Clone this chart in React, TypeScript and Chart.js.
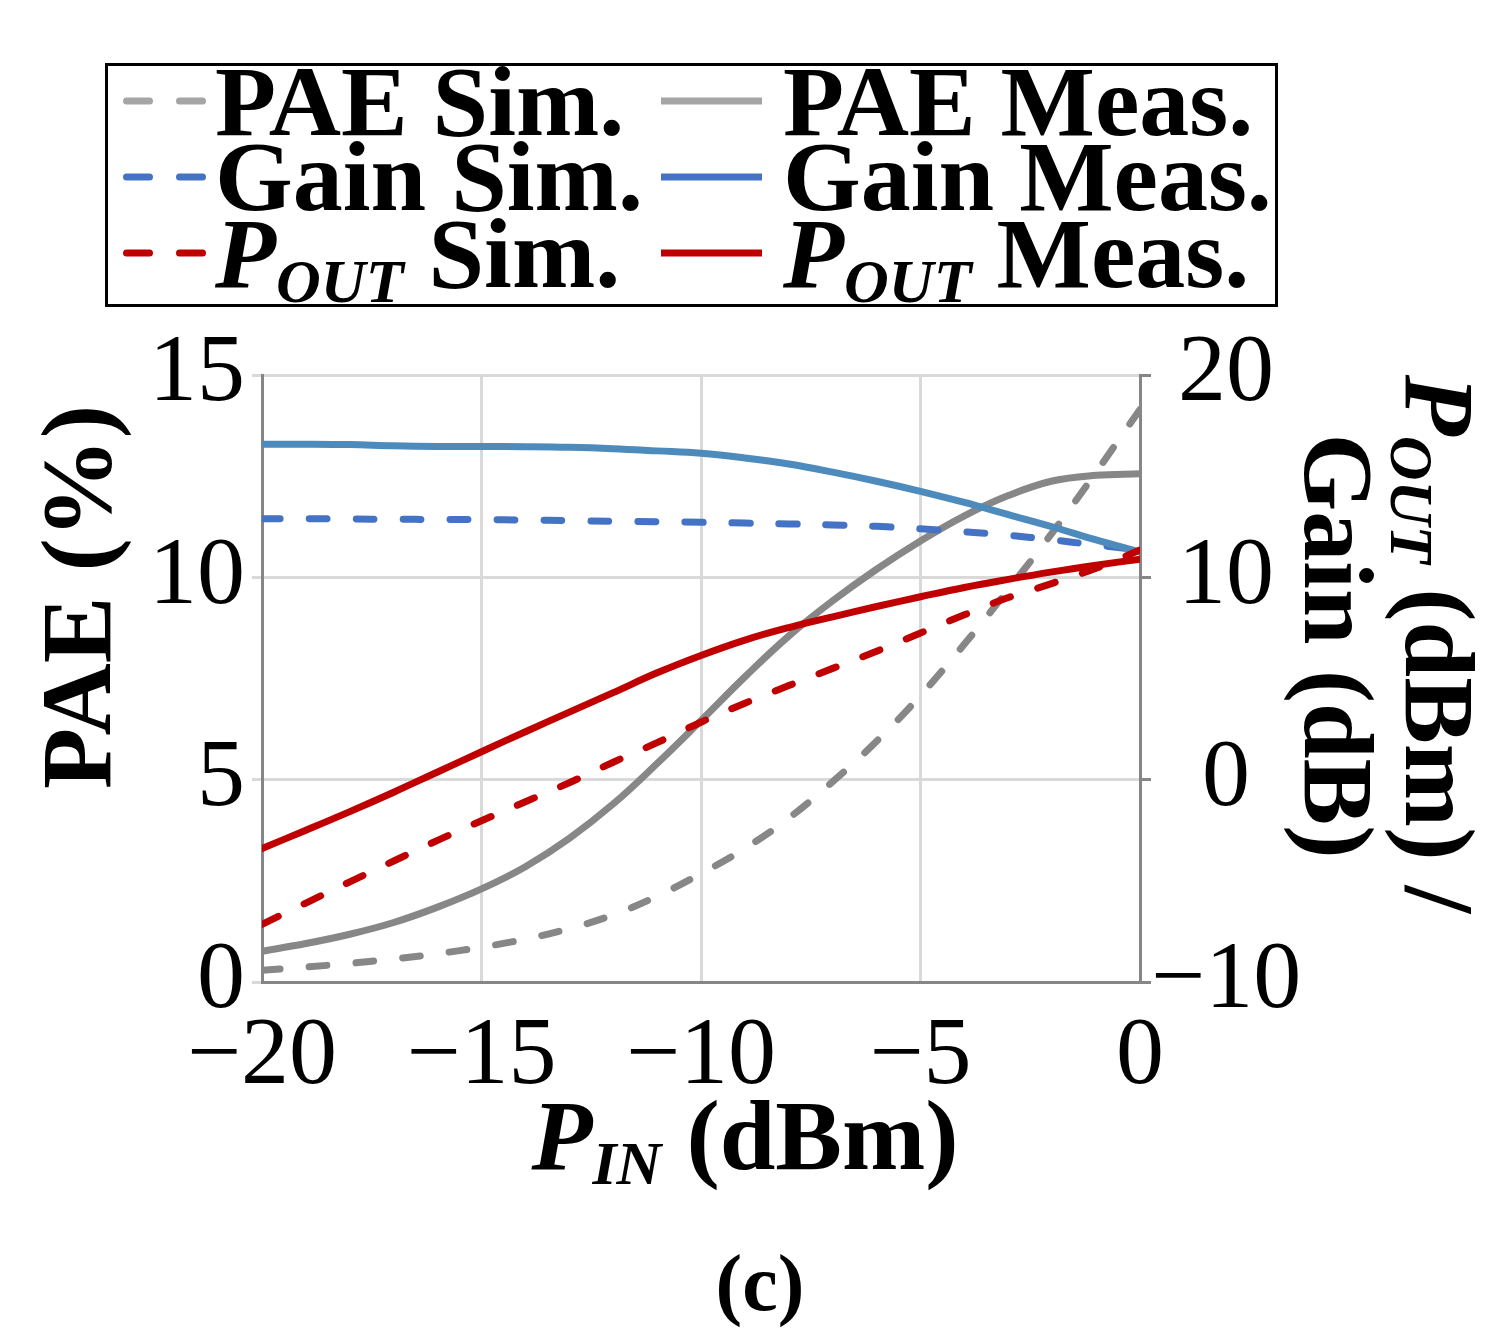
import { useEffect, useRef } from "react";
import { Chart, registerables } from "chart.js";

Chart.register(...registerables);

// input power sweep, dBm
const pinDbm = [-20, -19, -18, -17, -16, -15, -14, -13, -12, -11, -10, -9, -8, -7, -6, -5, -4, -3, -2, -1, 0];

// PAE (%), left axis
const paeSim = [0.29, 0.37, 0.46, 0.57, 0.7, 0.86, 1.06, 1.32, 1.66, 2.12, 2.68, 3.3, 4.05, 4.95, 5.95, 7.08, 8.35, 9.7, 11.1, 12.6, 14.15];
const paeMeas = [0.76, 0.95, 1.18, 1.47, 1.85, 2.3, 2.85, 3.55, 4.4, 5.4, 6.46, 7.54, 8.55, 9.42, 10.2, 10.9, 11.52, 12.02, 12.38, 12.52, 12.56];

// Gain (dB) and Pout (dBm), right axis
const gainSim = [12.9, 12.9, 12.88, 12.87, 12.86, 12.85, 12.83, 12.8, 12.77, 12.75, 12.72, 12.68, 12.64, 12.59, 12.52, 12.4, 12.25, 12.08, 11.85, 11.6, 11.35];
const gainMeas = [16.58, 16.58, 16.56, 16.5, 16.47, 16.47, 16.46, 16.43, 16.36, 16.25, 16.13, 15.9, 15.6, 15.2, 14.75, 14.25, 13.7, 13.1, 12.5, 11.85, 11.25];
const poutSim = [-7.15, -6.1, -5.05, -4.02, -3.0, -2.03, -1.09, -0.15, 0.86, 1.83, 2.84, 3.78, 4.65, 5.5, 6.35, 7.25, 8.15, 9.0, 9.7, 10.45, 11.35];
const poutMeas = [-3.4, -2.5, -1.58, -0.62, 0.38, 1.38, 2.37, 3.34, 4.3, 5.28, 6.14, 6.9, 7.52, 8.05, 8.56, 9.04, 9.5, 9.9, 10.27, 10.6, 10.9];

const xTicks = [-20, -15, -10, -5, 0];

const SERIF = "'Liberation Serif', 'Times New Roman', serif";
const B = `bold 100px ${SERIF}`;
const BI = `italic bold 100px ${SERIF}`;
const SUB = `italic bold 62px ${SERIF}`;

type Part = { t: string; font: string; dy?: number };

const legendItems: { parts: Part[]; color: string; dashed: boolean }[] = [
  { parts: [{ t: "PAE Sim.", font: B }], color: "#a5a5a5", dashed: true },
  { parts: [{ t: "PAE Meas.", font: B }], color: "#a5a5a5", dashed: false },
  { parts: [{ t: "Gain Sim.", font: B }], color: "#4472c4", dashed: true },
  { parts: [{ t: "Gain Meas.", font: B }], color: "#4472c4", dashed: false },
  {
    parts: [
      { t: "P", font: BI },
      { t: "OUT", font: SUB, dy: 15 },
      { t: " Sim.", font: B },
    ],
    color: "#c00000",
    dashed: true,
  },
  {
    parts: [
      { t: "P", font: BI },
      { t: "OUT", font: SUB, dy: 15 },
      { t: " Meas.", font: B },
    ],
    color: "#c00000",
    dashed: false,
  },
];

const drawParts = (ctx: CanvasRenderingContext2D, parts: Part[], x: number, y: number, center: boolean) => {
  let w = 0;
  parts.forEach((p) => {
    ctx.font = p.font;
    w += ctx.measureText(p.t).width;
  });
  let cx = center ? x - w / 2 : x;
  parts.forEach((p) => {
    ctx.font = p.font;
    ctx.fillText(p.t, cx, y + (p.dy || 0));
    cx += ctx.measureText(p.t).width;
  });
};

const decorations = {
  id: "decorations",
  afterDraw(chart: Chart) {
    const ctx = chart.ctx;
    ctx.save();
    ctx.fillStyle = "#000";
    ctx.textAlign = "left";
    ctx.textBaseline = "alphabetic";

    // legend box
    ctx.strokeStyle = "#000";
    ctx.lineWidth = 3;
    ctx.strokeRect(106.5, 64.5, 1170, 241);

    const rowLine = [101, 177, 253];
    const rowText = [135, 210, 287];
    legendItems.forEach((item, i) => {
      const row = Math.floor(i / 2);
      const col = i % 2;
      ctx.beginPath();
      ctx.strokeStyle = item.color;
      ctx.lineWidth = 7;
      ctx.lineCap = item.dashed ? "round" : "butt";
      ctx.setLineDash(item.dashed ? [23, 30] : []);
      if (col === 0) {
        ctx.moveTo(126.5, rowLine[row]);
        ctx.lineTo(204, rowLine[row]);
      } else {
        ctx.moveTo(661, rowLine[row]);
        ctx.lineTo(762, rowLine[row]);
      }
      ctx.stroke();
      ctx.setLineDash([]);
      drawParts(ctx, item.parts, col === 0 ? 215 : 783, rowText[row], false);
    });

    // left axis title
    ctx.save();
    ctx.translate(110, 597);
    ctx.rotate(-Math.PI / 2);
    drawParts(ctx, [{ t: "PAE (%)", font: B }], 0, 0, true);
    ctx.restore();

    // right axis title, two lines
    ctx.save();
    ctx.translate(1406, 644);
    ctx.rotate(Math.PI / 2);
    drawParts(
      ctx,
      [
        { t: "P", font: BI },
        { t: "OUT", font: SUB, dy: 15 },
        { t: " (dBm) /", font: B },
      ],
      0,
      0,
      true
    );
    ctx.restore();
    ctx.save();
    ctx.translate(1305, 646);
    ctx.rotate(Math.PI / 2);
    drawParts(ctx, [{ t: "Gain (dB)", font: B }], 0, 0, true);
    ctx.restore();

    // x axis title
    drawParts(
      ctx,
      [
        { t: "P", font: BI },
        { t: "IN", font: SUB, dy: 15 },
        { t: " (dBm)", font: B },
      ],
      745,
      1169,
      true
    );

    // panel label
    drawParts(ctx, [{ t: "(c)", font: `bold 80px ${SERIF}` }], 760, 1310, true);
    ctx.restore();
  },
};

const GRID = "#d9d9d9";
const AXIS = "#868686";
const tickFont = { family: SERIF, size: 96, weight: "normal" as const };
const minus = (v: string | number) => String(v).replace("-", "\u2212");

const App = () => {
  const canvasRef = useRef<HTMLCanvasElement | null>(null);
  const chartRef = useRef<Chart | null>(null);

  useEffect(() => {
    if (!canvasRef.current) return;
    if (chartRef.current) chartRef.current.destroy();

    const pts = (arr: number[]) => pinDbm.map((x, i) => ({ x, y: arr[i] }));
    const line = (label: string, arr: number[], color: string, dashed: boolean, axis: string) => ({
      label,
      data: pts(arr),
      yAxisID: axis,
      borderColor: color,
      backgroundColor: color,
      borderWidth: 7,
      borderDash: dashed ? [18, 29] : [],
      borderCapStyle: "round" as const,
      borderJoinStyle: "round" as const,
      pointRadius: 0,
      tension: 0.4,
      fill: false,
    });

    chartRef.current = new Chart(canvasRef.current, {
      type: "line",
      data: {
        datasets: [
          line("POUT Meas.", poutMeas, "#c00000", false, "y1"),
          line("POUT Sim.", poutSim, "#c00000", true, "y1"),
          line("Gain Meas.", gainMeas, "#4e8bbd", false, "y1"),
          line("Gain Sim.", gainSim, "#4472c4", true, "y1"),
          line("PAE Meas.", paeMeas, "#878787", false, "y"),
          line("PAE Sim.", paeSim, "#878787", true, "y"),
        ],
      },
      options: {
        responsive: false,
        animation: false,
        devicePixelRatio: 1,
        layout: { padding: { top: 375, left: 0, right: 0, bottom: 0 } },
        plugins: {
          legend: { display: false },
          tooltip: { enabled: false },
        },
        scales: {
          x: {
            type: "linear",
            min: -20,
            max: 0,
            afterBuildTicks: (scale: any) => {
              scale.ticks = xTicks.map((v) => ({ value: v }));
            },
            afterFit: (scale: any) => {
              scale.height = 360;
            },
            ticks: {
              font: tickFont,
              color: "#000",
              padding: 18,
              maxRotation: 0,
              autoSkip: false,
              callback: (v: any) => minus(v),
            },
            grid: { color: GRID, lineWidth: 3, drawTicks: false },
            border: { color: AXIS, width: 3 },
          },
          y: {
            position: "left",
            min: 0,
            max: 15,
            afterFit: (scale: any) => {
              scale.width = 262;
            },
            ticks: { stepSize: 5, font: tickFont, color: "#000", padding: 7 },
            grid: { color: GRID, lineWidth: 3, tickLength: 10 },
            border: { color: AXIS, width: 3 },
          },
          y1: {
            position: "right",
            min: -10,
            max: 20,
            afterFit: (scale: any) => {
              scale.width = 371;
            },
            ticks: {
              stepSize: 5,
              font: tickFont,
              color: "#000",
              padding: 0,
              crossAlign: "center",
              callback: (v: any) => minus(v),
            },
            grid: { drawOnChartArea: false, color: AXIS, lineWidth: 3, tickLength: 11 },
            border: { color: AXIS, width: 3 },
          },
        },
      },
      plugins: [decorations],
    });

    return () => {
      if (chartRef.current) {
        chartRef.current.destroy();
        chartRef.current = null;
      }
    };
  }, []);

  return (
    <div style={{ position: "absolute", left: 0, top: 0, width: 1511, height: 1342, background: "#fff" }}>
      <canvas ref={canvasRef} width={1511} height={1342} style={{ width: 1511, height: 1342 }}></canvas>
    </div>
  );
};

export default App;
